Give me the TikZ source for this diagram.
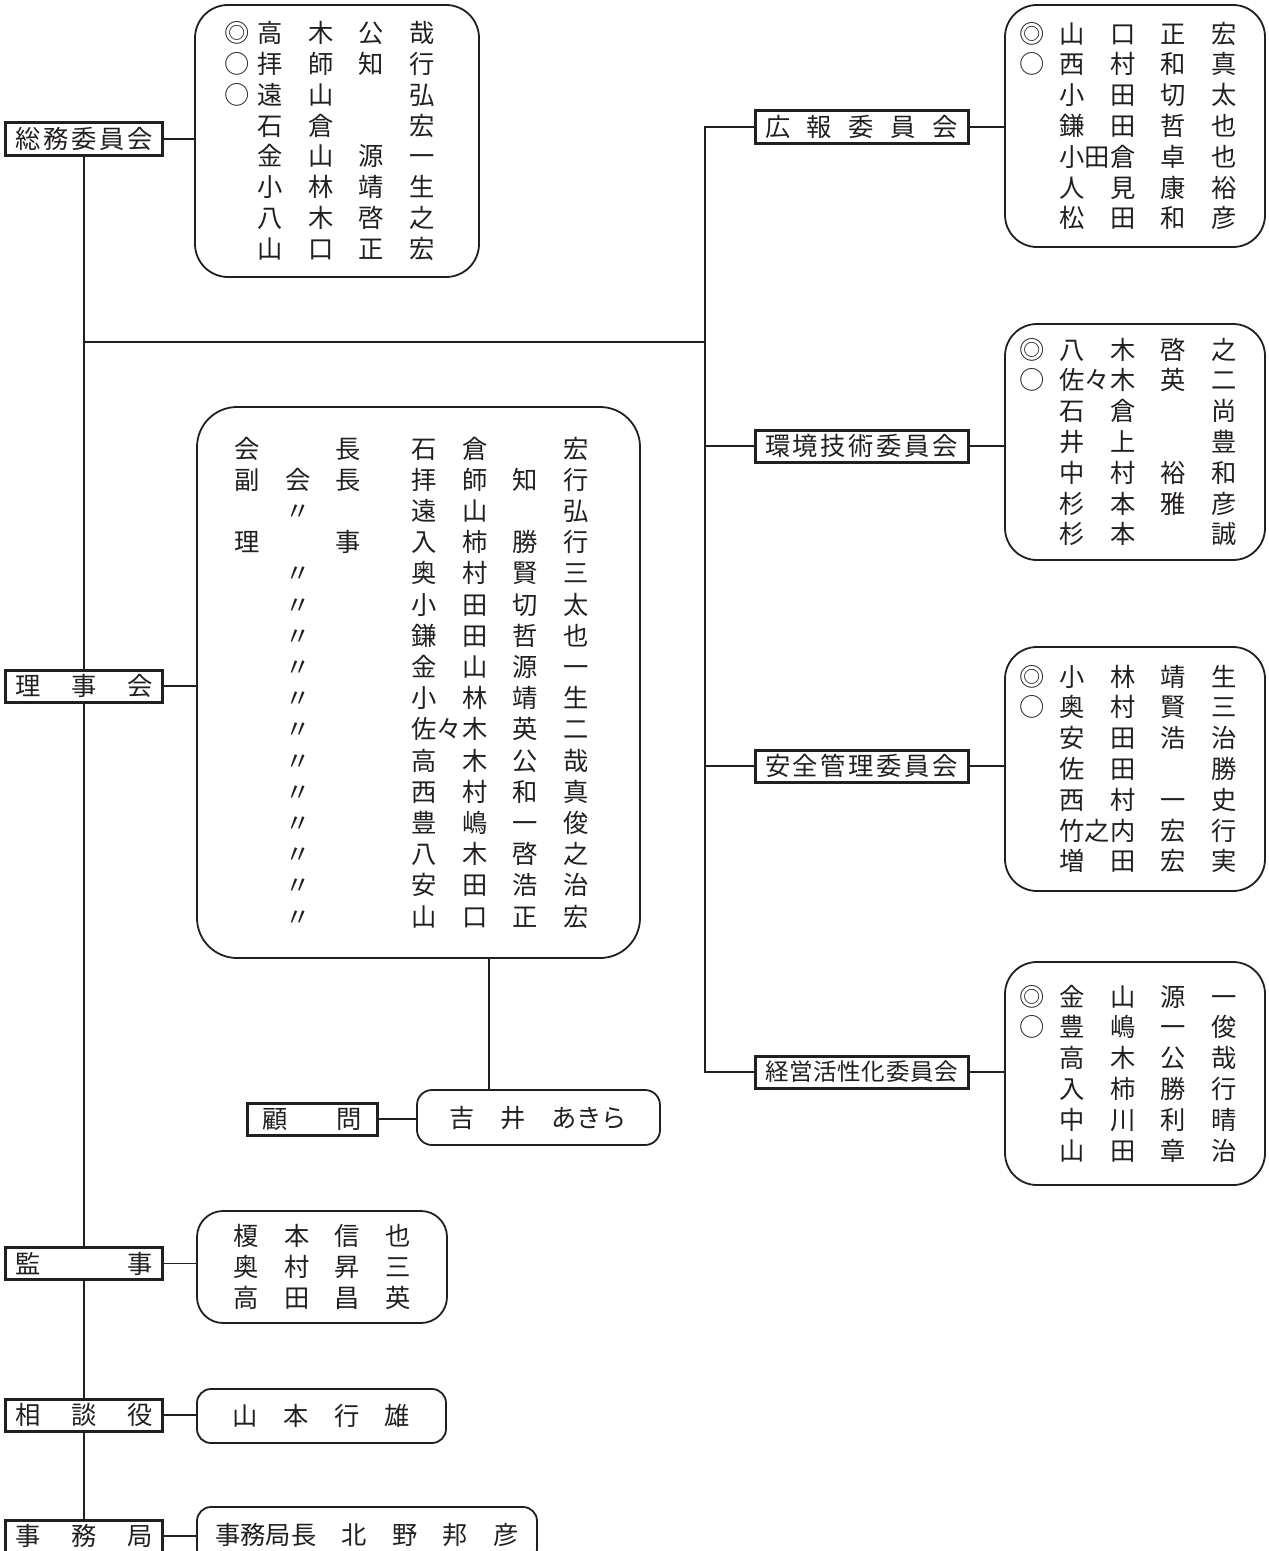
\documentclass[tikz,border=0pt]{standalone}
\usepackage{fontspec}
\newfontfamily\jpfont{Noto Sans CJK JP}
\usetikzlibrary{positioning, calc}
\definecolor{cink}{HTML}{231F20}
\newcommand{\mk}[2][40bp]{\makebox[#1][l]{#2}}
\tikzset{
  every picture/.style={color=cink, line width=1.8bp},
  every node/.append style={font=\jpfont\fontsize{25.3bp}{30.8bp}\selectfont},
  lbl/.style={draw, line width=3bp, inner xsep=10bp, inner ysep=0pt, minimum height=32bp, text width=#1, align=left},
  lbl/.default=137bp,
  names/.style={draw, rounded corners=#1, line width=1.8bp, inner ysep=0pt},
  names/.default=32bp,
  members/.style={names, align=left, text width=231bp, inner xsep=14.5bp},
}

\begin{document}
\begin{tikzpicture}[x=1bp, y=-1bp]
  \useasboundingbox (0,0) rectangle (1268,1551);

  % left column
  \node[lbl] (soumu)  at (84,139)  {総\hfill 務\hfill 委\hfill 員\hfill 会};
  \node[lbl] (riji)   at (84,686)  {理\hfill 事\hfill 会};
  \node[lbl] (kanji)  at (84,1263.5) {監\hfill 事};
  \node[lbl] (soudan) at (84,1415) {相\hfill 談\hfill 役};
  \node[lbl] (jimu)   at (84,1536) {事\hfill 務\hfill 局};
  \node[lbl=100bp, inner xsep=15bp] (komon) at (312,1119) {顧\hfill 問};

  \node[names=33bp, align=left, text width=225bp, inner xsep=29.5bp, minimum height=272bp] (soumu-m) at (337,141) {%
    \mk[33bp]{◎}高　木　公　哉\\
    \mk[33bp]{○}拝　師　知　行\\
    \mk[33bp]{○}遠　山　　　弘\\
    \mk[33bp]{}石　倉　　　宏\\
    \mk[33bp]{}金　山　源　一\\
    \mk[33bp]{}小　林　靖　生\\
    \mk[33bp]{}八　木　啓　之\\
    \mk[33bp]{}山　口　正　宏};

  \node[names=40bp, align=left, text width=368bp, inner xsep=37.5bp, minimum height=551bp,
        font=\jpfont\fontsize{25.3bp}{31.2bp}\selectfont] (riji-m) at (418.5,682.5) {%
    会　　　長　　石　倉　　　宏\\
    副　会　長　　拝　師　知　行\\
    　　〃　　　　遠　山　　　弘\\
    理　　　事　　入　柿　勝　行\\
    　　〃　　　　奥　村　賢　三\\
    　　〃　　　　小　田　切　太\\
    　　〃　　　　鎌　田　哲　也\\
    　　〃　　　　金　山　源　一\\
    　　〃　　　　小　林　靖　生\\
    　　〃　　　　佐々木　英　二\\
    　　〃　　　　高　木　公　哉\\
    　　〃　　　　西　村　和　真\\
    　　〃　　　　豊　嶋　一　俊\\
    　　〃　　　　八　木　啓　之\\
    　　〃　　　　安　田　浩　治\\
    　　〃　　　　山　口　正　宏};

  \node[names=15bp, minimum width=243bp, minimum height=55bp] (yoshii) at (538.5,1117.5) {吉　井　あきら};
  \node[names=26bp, align=center, minimum width=250bp, minimum height=112bp] (kanji-m) at (322,1267) {%
    榎　本　信　也\\
    奥　村　昇　三\\
    高　田　昌　英};
  \node[names=14bp, minimum width=249bp, minimum height=54bp] (soudan-m) at (321.5,1416) {山　本　行　雄};
  \node[names=14bp, minimum width=340bp, minimum height=56bp] (jimu-m) at (367,1535) {事務局長　北　野　邦　彦};

  % committees
  \node[lbl=193bp] (kouhou) at (861.5,127)  {広\hfill 報\hfill 委\hfill 員\hfill 会};
  \node[lbl=193bp] (kankyo) at (861.5,446)  {環\hfill 境\hfill 技\hfill 術\hfill 委\hfill 員\hfill 会};
  \node[lbl=193bp] (anzen)  at (861.5,766)  {安\hfill 全\hfill 管\hfill 理\hfill 委\hfill 員\hfill 会};
  \node[lbl=193bp, font=\jpfont\fontsize{23.5bp}{28bp}\selectfont] (keiei) at (861.5,1072) {経\hfill 営\hfill 活\hfill 性\hfill 化\hfill 委\hfill 員\hfill 会};

  \node[members, minimum height=242bp] (kouhou-m) at (1135,126) {%
    \mk{◎}山　口　正　宏\\
    \mk{○}西　村　和　真\\
    \mk{}小　田　切　太\\
    \mk{}鎌　田　哲　也\\
    \mk{}小田倉　卓　也\\
    \mk{}人　見　康　裕\\
    \mk{}松　田　和　彦};
  \node[members, minimum height=236bp] (kankyo-m) at (1135,442) {%
    \mk{◎}八　木　啓　之\\
    \mk{○}佐々木　英　二\\
    \mk{}石　倉　　　尚\\
    \mk{}井　上　　　豊\\
    \mk{}中　村　裕　和\\
    \mk{}杉　本　雅　彦\\
    \mk{}杉　本　　　誠};
  \node[members, minimum height=244bp] (anzen-m) at (1135,769) {%
    \mk{◎}小　林　靖　生\\
    \mk{○}奥　村　賢　三\\
    \mk{}安　田　浩　治\\
    \mk{}佐　田　　　勝\\
    \mk{}西　村　一　史\\
    \mk{}竹之内　宏　行\\
    \mk{}増　田　宏　実};
  \node[members, minimum height=223bp] (keiei-m) at (1135,1073.5) {%
    \mk{◎}金　山　源　一\\
    \mk{○}豊　嶋　一　俊\\
    \mk{}高　木　公　哉\\
    \mk{}入　柿　勝　行\\
    \mk{}中　川　利　晴\\
    \mk{}山　田　章　治};

  % lines
  \draw (soumu.south) -- (riji.north);
  \draw (riji.south) -- (kanji.north);
  \draw (kanji.south) -- (soudan.north);
  \draw (soudan.south) -- (jimu.north);
  \coordinate (fork) at (soumu.south |- 0,342);
  \coordinate (rfork) at (705,342);
  \draw (fork) -- (rfork);
  \draw (kouhou.west) -| (rfork) |- (keiei.west);
  \foreach \c in {kankyo, anzen} \draw (\c.west) -- (\c.west -| rfork);
  \foreach \g in {soumu, riji, kanji, soudan, jimu, kouhou, kankyo, anzen, keiei}
    \draw (\g.east) -- (\g.east -| \g-m.west);
  \draw (komon.east) -- (komon.east -| yoshii.west);
  \draw ([xshift=70.5bp]riji-m.south) -- ([xshift=70.5bp]riji-m.south |- yoshii.north);
\end{tikzpicture}
\end{document}
